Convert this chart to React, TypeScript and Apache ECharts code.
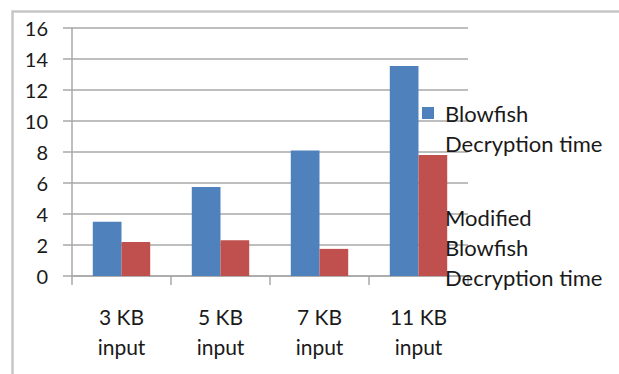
import React, { useEffect, useRef } from "react";
import * as echarts from "echarts";

// Input sizes on the category axis
const categories = ["3 KB\ninput", "5 KB\ninput", "7 KB\ninput", "11 KB\ninput"];
// Decryption times per input size
const blowfish = [3.5, 5.75, 8.1, 13.55];
const modifiedBlowfish = [2.2, 2.3, 1.75, 7.8];
// Value axis range
const yMin = 0;
const yMax = 16;
const yStep = 2;

const seriesNames = ["Blowfish Decryption time", "Modified Blowfish Decryption time"];
const legendLabels: Record<string, string> = {
  "Blowfish Decryption time": "\nBlowfish\nDecryption time",
  "Modified Blowfish Decryption time": "Modified\nBlowfish\nDecryption time",
};

const FONT = "Lato";
const TEXT = "#1a1a1a";
const GRID = "#a8a8a8";

export default function App() {
  const ref = useRef<HTMLDivElement>(null);

  useEffect(() => {
    if (!ref.current) return;
    const chart = echarts.init(ref.current, undefined, { renderer: "svg" });
    chart.setOption({
      animation: false,
      backgroundColor: "#ffffff",
      grid: { left: 72, right: 151, top: 28, bottom: 98, containLabel: false },
      graphic: [
        {
          type: "rect",
          left: 10,
          top: 9,
          shape: { width: 700, height: 500 },
          style: { fill: "none", stroke: "#c6c6c6", lineWidth: 2.5 },
          silent: true,
        },
      ],
      legend: {
        orient: "vertical",
        left: 422,
        top: 68,
        padding: 0,
        icon: "rect",
        itemWidth: 12,
        itemHeight: 12,
        itemGap: 44,
        selectedMode: false,
        data: seriesNames,
        formatter: (name: string) => legendLabels[name] ?? name,
        textStyle: {
          fontFamily: FONT,
          fontSize: 22,
          lineHeight: 30,
          color: TEXT,
          padding: [0, 0, 0, 6],
        },
      },
      xAxis: {
        type: "category",
        data: categories,
        axisLine: { show: true, lineStyle: { color: GRID, width: 1.5 } },
        axisTick: { show: true, alignWithLabel: false, length: 9, lineStyle: { color: GRID, width: 1.5 } },
        axisLabel: {
          fontFamily: FONT,
          fontSize: 21,
          lineHeight: 30,
          color: TEXT,
          margin: 25,
        },
      },
      yAxis: {
        type: "value",
        min: yMin,
        max: yMax,
        interval: yStep,
        axisLine: { show: true, lineStyle: { color: GRID, width: 1.5 } },
        axisTick: { show: true, length: 9, lineStyle: { color: GRID, width: 1.5 } },
        splitLine: { show: true, lineStyle: { color: GRID, width: 1.5 } },
        axisLabel: {
          fontFamily: FONT,
          fontSize: 20,
          color: TEXT,
          margin: 24,
        },
      },
      series: [
        {
          name: seriesNames[0],
          type: "bar",
          data: blowfish,
          barWidth: "29%",
          barGap: "0%",
          itemStyle: { color: "#4f81bd" },
        },
        {
          name: seriesNames[1],
          type: "bar",
          data: modifiedBlowfish,
          barWidth: "29%",
          barGap: "0%",
          itemStyle: { color: "#c0504d" },
        },
      ],
    });
    return () => chart.dispose();
  }, []);

  return (
    <div
      ref={ref}
      style={{ position: "fixed", left: 0, top: 0, width: 619, height: 374 }}
    />
  );
}
